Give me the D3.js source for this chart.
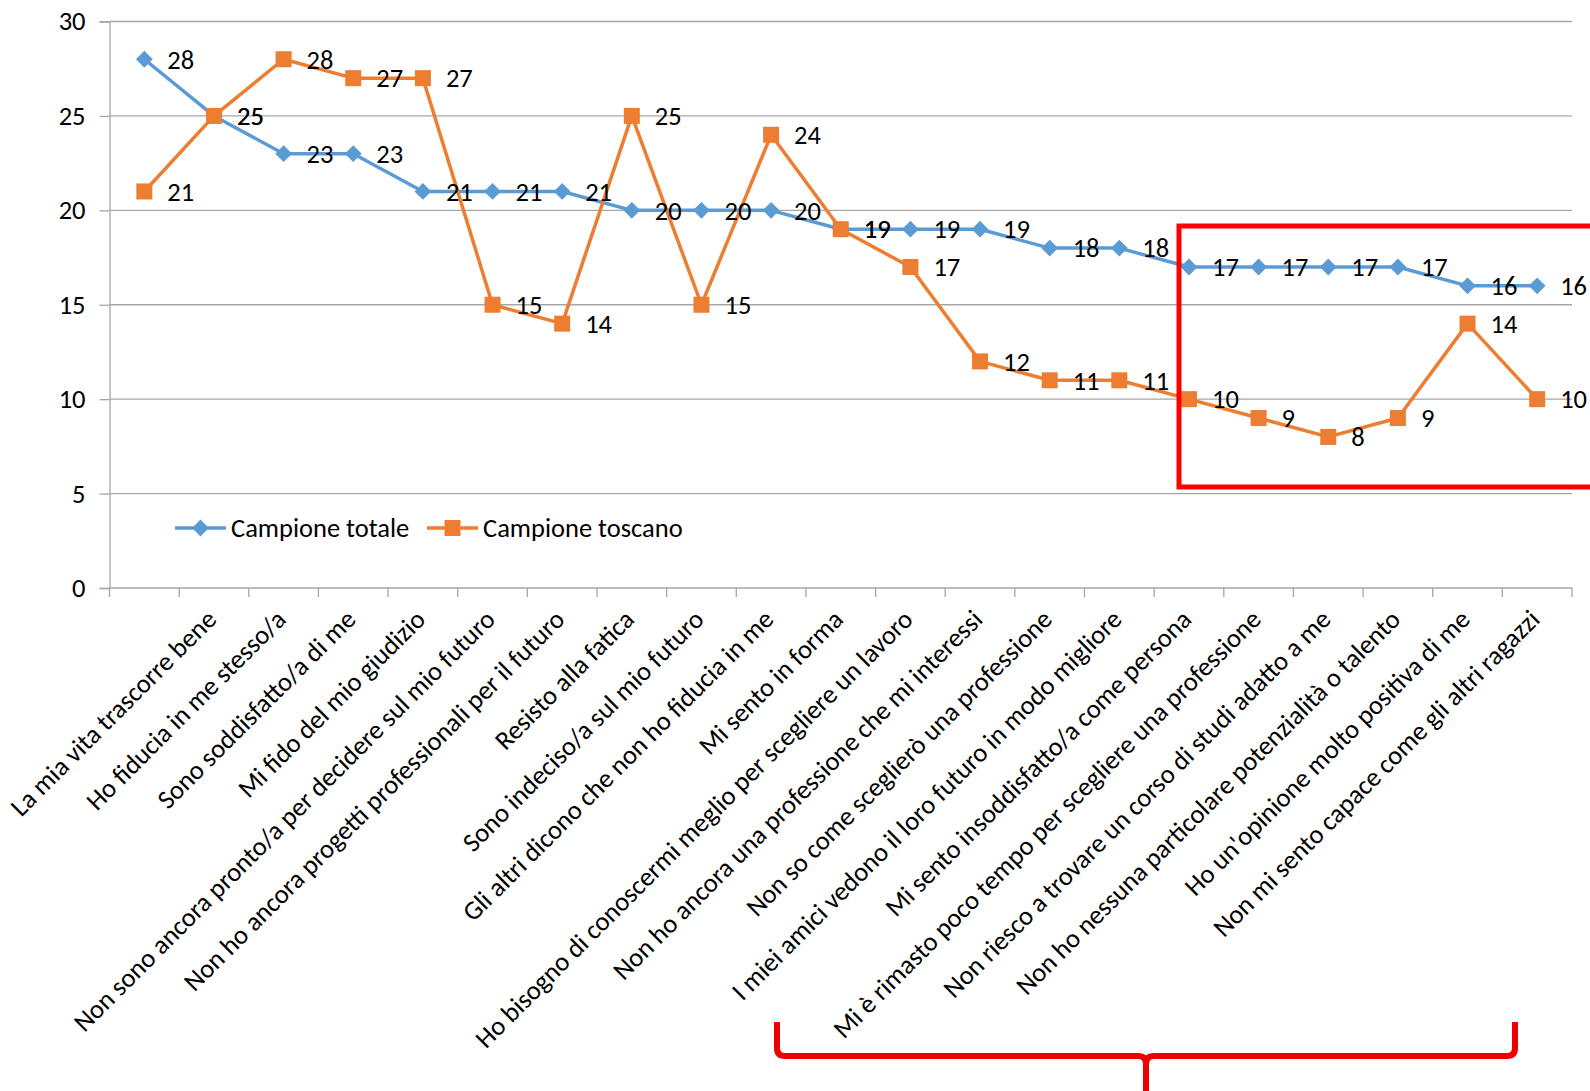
<!DOCTYPE html>
<html><head><meta charset="utf-8">
<script src="https://cdn.jsdelivr.net/npm/d3@7/dist/d3.min.js"></script>
<style>
html,body{margin:0;padding:0;background:#fff;}
svg{display:block;font-family:Carlito,Lato,"Open Sans",sans-serif;}
</style></head>
<body>
<svg id="chart" width="1590" height="1091"></svg>
<script>
const categories = [
  "",
  "La mia vita trascorre bene",
  "Ho fiducia in me stesso/a",
  "Sono soddisfatto/a di me",
  "Mi fido del mio giudizio",
  "Non sono ancora pronto/a per decidere sul mio futuro",
  "Non ho ancora progetti professionali per il futuro",
  "Resisto alla fatica",
  "Sono indeciso/a sul mio futuro",
  "Gli altri dicono che non ho fiducia in me",
  "Mi sento in forma",
  "Ho bisogno di conoscermi meglio per scegliere un lavoro",
  "Non ho ancora una professione che mi interessi",
  "Non so come sceglierò una professione",
  "I miei amici vedono il loro futuro in modo migliore",
  "Mi sento insoddisfatto/a come persona",
  "Mi è rimasto poco tempo per scegliere una professione",
  "Non riesco a trovare un corso di studi adatto a me",
  "Non ho nessuna particolare potenzialità o talento",
  "Ho un'opinione molto positiva di me",
  "Non mi sento capace come gli altri ragazzi"
];
const totale  = [28,25,23,23,21,21,21,20,20,20,19,19,19,18,18,17,17,17,17,16,16];
const toscano = [21,25,28,27,27,15,14,25,15,24,19,17,12,11,11,10,9,8,9,14,10];
const seriesNames = ["Campione totale","Campione toscano"];
const yTicks = [0,5,10,15,20,25,30];

const blue = "#5B9BD5", orange = "#ED7D31", grid = "#A6A6A6";
const svg = d3.select("#chart");
const L = 109.5, R = 1572, T = 21.5, B = 588;
const x = d3.scaleBand().domain(d3.range(categories.length)).range([L, R]);
const y = d3.scaleLinear().domain([0, 30]).range([B, T]);
const cx = i => x(i) + x.bandwidth() / 2;
const FS = 26.5;

// gridlines
svg.append("g").selectAll("line").data(yTicks.filter(t => t > 0)).join("line")
  .attr("x1", L).attr("x2", R).attr("y1", d => y(d)).attr("y2", d => y(d))
  .attr("stroke", grid).attr("stroke-width", 1.3);

// y axis
const yAxis = svg.append("g").attr("transform", `translate(${L},0)`)
  .call(d3.axisLeft(y).tickValues(yTicks).tickSize(10).tickPadding(14));
yAxis.select(".domain").attr("stroke", grid).attr("stroke-width", 1.3);
yAxis.selectAll(".tick line").attr("stroke", grid).attr("stroke-width", 1.3);
yAxis.selectAll(".tick text").attr("font-size", FS).attr("fill", "#000")
  .attr("font-family", "Carlito,Lato,sans-serif");

// x axis line and ticks at boundaries
svg.append("line").attr("x1", L).attr("x2", R).attr("y1", B).attr("y2", B)
  .attr("stroke", grid).attr("stroke-width", 1.3);
svg.append("g").selectAll("line").data(d3.range(categories.length + 1)).join("line")
  .attr("x1", i => L + i * x.step()).attr("x2", i => L + i * x.step())
  .attr("y1", B).attr("y2", B + 9).attr("stroke", grid).attr("stroke-width", 1.3);

// category labels
svg.append("g").selectAll("text").data(categories).join("text")
  .attr("transform", (d, i) => `translate(${cx(i) + 4},${B + 33}) rotate(-45)`)
  .attr("text-anchor", "end").attr("font-size", FS).attr("fill", "#000")
  .text(d => d);

// lines
const line = d3.line().x((d, i) => cx(i)).y(d => y(d));
svg.append("path").datum(totale).attr("d", line).attr("fill", "none")
  .attr("stroke", blue).attr("stroke-width", 3.5).attr("stroke-linejoin", "round");
svg.append("path").datum(toscano).attr("d", line).attr("fill", "none")
  .attr("stroke", orange).attr("stroke-width", 3.5).attr("stroke-linejoin", "round");

// markers
const dia = d3.symbol().type(d3.symbolDiamond2).size(180);
svg.append("g").selectAll("path").data(totale).join("path")
  .attr("d", dia).attr("transform", (d, i) => `translate(${cx(i)},${y(d)})`)
  .attr("fill", blue);
svg.append("g").selectAll("rect").data(toscano).join("rect")
  .attr("x", (d, i) => cx(i) - 8).attr("y", d => y(d) - 8)
  .attr("width", 16).attr("height", 16).attr("fill", orange);

// data labels
[totale, toscano].forEach(s => {
  svg.append("g").selectAll("text").data(s).join("text")
    .attr("x", (d, i) => cx(i) + 23).attr("y", d => y(d))
    .attr("dy", "0.35em").attr("font-size", FS).attr("fill", "#000")
    .text(d => d);
});

// legend
const lg = svg.append("g").attr("transform", `translate(0,${y(0) - 60})`);
[[175, blue, "d"], [427, orange, "s"]].forEach(([lx, col, sh], k) => {
  lg.append("line").attr("x1", lx).attr("x2", lx + 51).attr("y1", 0).attr("y2", 0)
    .attr("stroke", col).attr("stroke-width", 3.5);
  if (sh === "d") lg.append("path").attr("d", dia).attr("transform", `translate(${lx + 25.5},0)`).attr("fill", col);
  else lg.append("rect").attr("x", lx + 17.5).attr("y", -8).attr("width", 16).attr("height", 16).attr("fill", col);
  lg.append("text").attr("x", lx + 56).attr("y", 0).attr("dy", "0.35em")
    .attr("font-size", FS).attr("fill", "#000").text(seriesNames[k]);
});

// red highlight rectangle
svg.append("rect").attr("x", 1179).attr("y", 226).attr("width", 420).attr("height", 261)
  .attr("fill", "none").attr("stroke", "#FF0000").attr("stroke-width", 5);

// red brace
const bl = 777, br = 1515, bt = 1022, bh = 1056, bc = 1146, r = 8;
const brace = `M${bl},${bt} L${bl},${bh - r} Q${bl},${bh} ${bl + r},${bh} L${bc - r},${bh} Q${bc},${bh} ${bc},${bh + r} L${bc},1095 M${bc},${bh + r} Q${bc},${bh} ${bc + r},${bh} L${br - r},${bh} Q${br},${bh} ${br},${bh - r} L${br},${bt}`;
svg.append("path").attr("d", brace).attr("fill", "none").attr("stroke", "#EE0000").attr("stroke-width", 6);
</script>
</body></html>
